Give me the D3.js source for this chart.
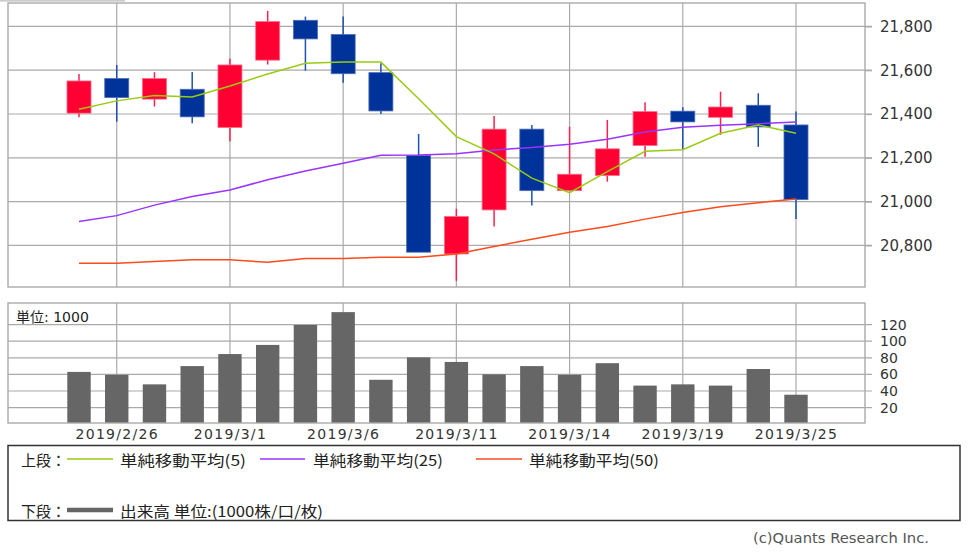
<!DOCTYPE html>
<html>
<head>
<meta charset="utf-8">
<script src="https://cdn.jsdelivr.net/npm/d3@7"></script>
<style>
  body { margin: 0; background: #fff; }
  svg { display: block; }
</style>
</head>
<body>
<div id="chart"></div>
<script>
// trading days shown in the chart
const dates = ['2019/2/25', '2019/2/26', '2019/2/27', '2019/2/28', '2019/3/1',
  '2019/3/4', '2019/3/5', '2019/3/6', '2019/3/7', '2019/3/8',
  '2019/3/11', '2019/3/12', '2019/3/13', '2019/3/14', '2019/3/15',
  '2019/3/18', '2019/3/19', '2019/3/20', '2019/3/22', '2019/3/25'];

// candle values
const open  = [21404, 21562, 21468, 21513, 21338, 21646, 21828, 21763, 21589, 21210,
               20761, 20962, 21331, 21050, 21119, 21256, 21413, 21385, 21440, 21350];
const high  = [21583, 21624, 21591, 21592, 21652, 21871, 21845, 21845, 21632, 21309,
               20967, 21391, 21350, 21342, 21373, 21454, 21431, 21502, 21495, 21411];
const low   = [21385, 21365, 21434, 21358, 21276, 21626, 21598, 21543, 21400, 20769,
               20638, 20886, 20982, 21050, 21091, 21205, 21239, 21305, 21250, 20920];
const close = [21551, 21475, 21562, 21387, 21624, 21822, 21743, 21584, 21414, 20769,
               20932, 21331, 21050, 21125, 21241, 21411, 21364, 21432, 21341, 21009];

// moving averages
const ma5  = [21422, 21460, 21484, 21478, 21528, 21583, 21632, 21637, 21637, 21470,
              21297, 21218, 21107, 21041, 21137, 21230, 21237, 21312, 21350, 21312];
const ma25 = [20909, 20936, 20984, 21023, 21053, 21100, 21140, 21175, 21212, 21213,
              21219, 21236, 21247, 21262, 21285, 21318, 21340, 21349, 21356, 21364];
const ma50 = [20719, 20719, 20726, 20734, 20734, 20723, 20740, 20740, 20746, 20746,
              20761, 20795, 20828, 20860, 20886, 20920, 20950, 20977, 20995, 21012];

// volume (x1000)
const volume = [63, 59.5, 48, 70, 84.5, 95.5, 119.5, 135, 53.5, 80.5,
                75, 60, 70, 59.5, 73.5, 46.5, 48, 46.5, 66.5, 35.5];

const priceTicks = [20800, 21000, 21200, 21400, 21600, 21800];
const volumeTicks = [20, 40, 60, 80, 100, 120];
const dateTicks = ['2019/2/26', '2019/3/1', '2019/3/6', '2019/3/11', '2019/3/14', '2019/3/19', '2019/3/25'];

const width = 969, height = 556;
const pricePanel = {left: 8, right: 865, top: 3, bottom: 287};
const volPanel = {left: 8, right: 865, top: 303, bottom: 423};

const upColor = '#ff0033', downColor = '#003399';
const gridColor = '#aaaaaa';
const font = '"DejaVu Sans", "Noto Sans CJK JP", sans-serif';
const jpFont = '"Noto Sans CJK JP", sans-serif';

const svg = d3.select('#chart').append('svg')
    .attr('width', width)
    .attr('height', height);

// scales
const x = d3.scalePoint()
    .domain(dates)
    .range([pricePanel.left + 71, pricePanel.right - 69]);

const y = d3.scaleLinear()
    .domain([20610, 21907])
    .range([pricePanel.bottom, pricePanel.top]);

const yv = d3.scaleLinear()
    .domain([0, 146])
    .range([424.2, volPanel.top]);

const bodyW = 24;

// small tab line top-left
svg.append('line')
    .attr('x1', 0).attr('x2', 125)
    .attr('y1', 0.8).attr('y2', 0.8)
    .attr('stroke', '#bbb').attr('stroke-width', 1.2);

// ---------- price panel ----------
const pg = svg.append('g');

pg.selectAll('.hgrid')
  .data(priceTicks)
  .join('line')
    .attr('x1', pricePanel.left).attr('x2', pricePanel.right + 7)
    .attr('y1', d => y(d)).attr('y2', d => y(d))
    .attr('stroke', gridColor).attr('stroke-width', 1.2);

pg.selectAll('.vgrid')
  .data(dateTicks)
  .join('line')
    .attr('x1', d => x(d)).attr('x2', d => x(d))
    .attr('y1', pricePanel.top).attr('y2', pricePanel.bottom)
    .attr('stroke', gridColor).attr('stroke-width', 1.2);

pg.append('rect')
    .attr('x', pricePanel.left).attr('y', pricePanel.top)
    .attr('width', pricePanel.right - pricePanel.left)
    .attr('height', pricePanel.bottom - pricePanel.top)
    .attr('fill', 'none').attr('stroke', gridColor).attr('stroke-width', 1.4);

// right axis labels
pg.append('g')
    .attr('transform', `translate(${pricePanel.right},0)`)
    .call(d3.axisRight(y).tickValues(priceTicks).tickSize(7).tickPadding(8).tickFormat(d3.format(',')))
    .call(g => g.select('.domain').remove())
    .call(g => g.selectAll('line').attr('stroke', gridColor).attr('stroke-width', 1.2))
    .call(g => g.selectAll('text').attr('fill', '#333').style('font-size', '15px').style('font-family', font));

// candles
const candles = pg.selectAll('.candle')
  .data(dates.map((d, i) => ({date: d, o: open[i], h: high[i], l: low[i], c: close[i]})))
  .join('g');

candles.append('line')
    .attr('x1', d => x(d.date)).attr('x2', d => x(d.date))
    .attr('y1', d => y(d.h)).attr('y2', d => y(d.l))
    .attr('stroke', d => d.c >= d.o ? '#ff2050' : '#2050b0')
    .attr('stroke-width', 1.5);

candles.append('rect')
    .attr('x', d => x(d.date) - bodyW / 2)
    .attr('width', bodyW)
    .attr('y', d => y(Math.max(d.o, d.c)))
    .attr('height', d => Math.max(1, Math.abs(y(d.o) - y(d.c))))
    .attr('fill', d => d.c >= d.o ? upColor : downColor)
    .attr('stroke', d => d.c >= d.o ? '#ff6c88' : '#4d6cb8')
    .attr('stroke-width', 0.8);

// moving averages
const maSeries = [
  {values: ma50, color: '#ff4a1c'},
  {values: ma25, color: '#9933ff'},
  {values: ma5,  color: '#99cc11'}
];

const line = d3.line()
    .x((d, i) => x(dates[i]))
    .y(d => y(d));

pg.selectAll('.ma')
  .data(maSeries)
  .join('path')
    .attr('d', d => line(d.values))
    .attr('fill', 'none')
    .attr('stroke', d => d.color)
    .attr('stroke-width', 1.5);

// ---------- volume panel ----------
const vg = svg.append('g');

vg.selectAll('.hgrid')
  .data(volumeTicks)
  .join('line')
    .attr('x1', volPanel.left).attr('x2', volPanel.right + 7)
    .attr('y1', d => yv(d)).attr('y2', d => yv(d))
    .attr('stroke', gridColor).attr('stroke-width', 1.2);

vg.selectAll('.vgrid')
  .data(dateTicks)
  .join('line')
    .attr('x1', d => x(d)).attr('x2', d => x(d))
    .attr('y1', volPanel.top).attr('y2', volPanel.bottom)
    .attr('stroke', gridColor).attr('stroke-width', 1.2);

vg.selectAll('.bar')
  .data(volume)
  .join('rect')
    .attr('x', (d, i) => x(dates[i]) - 11.7)
    .attr('width', 23.4)
    .attr('y', d => yv(d))
    .attr('height', d => volPanel.bottom - yv(d))
    .attr('fill', '#666666');

vg.append('rect')
    .attr('x', volPanel.left).attr('y', volPanel.top)
    .attr('width', volPanel.right - volPanel.left)
    .attr('height', volPanel.bottom - volPanel.top)
    .attr('fill', 'none').attr('stroke', gridColor).attr('stroke-width', 1.4);

vg.append('g')
    .attr('transform', `translate(${volPanel.right},0)`)
    .call(d3.axisRight(yv).tickValues(volumeTicks).tickSize(0).tickPadding(15))
    .call(g => g.select('.domain').remove())
    .call(g => g.selectAll('text').attr('fill', '#333').style('font-size', '14px').style('font-family', font));

vg.append('text')
    .attr('x', 16).attr('y', 317)
    .attr('dominant-baseline', 'central')
    .attr('fill', '#222')
    .style('font-size', '14px')
    .style('font-family', font)
    .text('単位: 1000');

// date labels
vg.append('g')
    .attr('transform', `translate(0,${volPanel.bottom})`)
    .call(d3.axisBottom(x).tickValues(dateTicks).tickSize(0).tickPadding(6))
    .call(g => g.select('.domain').remove())
    .call(g => g.selectAll('text')
        .attr('fill', '#333')
        .style('font-size', '14px')
        .style('letter-spacing', '1.3px')
        .style('font-family', font));

// ---------- legend ----------
const lg = svg.append('g');

lg.append('rect')
    .attr('x', 8).attr('y', 445.5)
    .attr('width', 952).attr('height', 75)
    .attr('fill', 'none').attr('stroke', '#333').attr('stroke-width', 1.5);

const legendRows = [
  {label: '上段：', y: 459, items: [
    {text: '単純移動平均(5)', color: '#99cc11', x0: 67, x1: 113, tx: 120, tw: 126, sw: 1.5},
    {text: '単純移動平均(25)', color: '#9933ff', x0: 260, x1: 305, tx: 313, tw: 130, sw: 1.5},
    {text: '単純移動平均(50)', color: '#ff4a1c', x0: 476, x1: 522, tx: 529, tw: 130, sw: 1.5}
  ]},
  {label: '下段：', y: 510, items: [
    {text: '出来高 単位:(1000株/口/枚)', color: '#666666', x0: 67, x1: 113, tx: 120, tw: 203, sw: 4.5}
  ]}
];

legendRows.forEach(row => {
  lg.append('text')
      .attr('x', 21).attr('y', row.y)
      .attr('dominant-baseline', 'central')
      .attr('fill', '#222')
      .style('font-size', '15px')
      .style('font-family', jpFont)
      .text(row.label);
  row.items.forEach(it => {
    lg.append('line')
        .attr('x1', it.x0).attr('x2', it.x1)
        .attr('y1', row.y).attr('y2', row.y)
        .attr('stroke', it.color).attr('stroke-width', it.sw);
    lg.append('text')
        .attr('x', it.tx).attr('y', row.y)
        .attr('dominant-baseline', 'central')
        .attr('fill', '#222')
        .attr('textLength', it.tw)
        .attr('lengthAdjust', 'spacingAndGlyphs')
        .style('font-size', '15px')
        .style('font-family', jpFont)
        .text(it.text);
  });
});

// copyright
svg.append('text')
    .attr('x', 753).attr('y', 538)
    .attr('dominant-baseline', 'central')
    .attr('fill', '#555')
    .attr('textLength', 176)
    .attr('lengthAdjust', 'spacingAndGlyphs')
    .style('font-size', '14px')
    .style('font-family', font)
    .text('(c)Quants Research Inc.');
</script>
</body>
</html>
